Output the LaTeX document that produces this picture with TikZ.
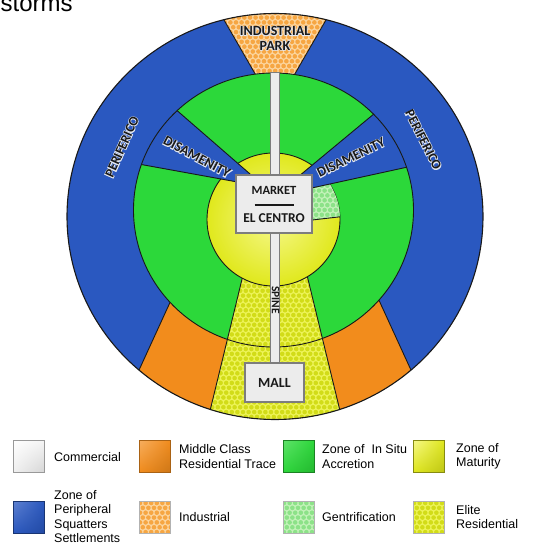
\documentclass[tikz,border=0pt]{standalone}
\usepackage{fontspec}
\setmainfont{Liberation Sans}
\newfontfamily\lblfont{Carlito}
\newfontfamily\halofont{Carlito}[UprightFeatures={FakeBold=10}, BoldFeatures={FakeBold=10}]
\usetikzlibrary{calc,shadings}

\definecolor{pblue}{RGB}{42,88,192}
\definecolor{pgreen}{RGB}{44,216,58}
\definecolor{pyellow}{RGB}{224,232,28}
\definecolor{pyellowlt}{RGB}{246,248,140}
\definecolor{porange}{RGB}{242,140,28}
\definecolor{indbase}{RGB}{252,214,160}
\definecolor{inddot}{RGB}{246,166,66}
\definecolor{elbase}{RGB}{238,244,90}
\definecolor{eldot}{RGB}{210,220,24}
\definecolor{genbase}{RGB}{196,242,186}
\definecolor{gendot}{RGB}{140,226,136}
\definecolor{boxfill}{RGB}{236,236,236}
\definecolor{boxedge}{RGB}{125,125,125}
\definecolor{ink}{RGB}{25,25,25}
\definecolor{halocol}{RGB}{225,230,240}

% honeycomb of dots: colour, x0, y0, x1, y1, radius
\newcommand\dotfield[6]{%
  \pgfmathtruncatemacro\dfrows{(#5-#3)/4.85}%
  \pgfmathtruncatemacro\dfcols{(#4-#2)/5.6}%
  \foreach \k in {0,...,\dfrows}{%
    \foreach \m in {0,...,\dfcols}{%
      \fill[#1] ({#2+\m*5.6+mod(\k,2)*2.8},{#3+\k*4.85}) circle[radius=#6pt];
    }}}

% bold label with a pale halo: name, position, angle, size, text
\newcommand\halo[5]{%
  \node[lbl, text=halocol, rotate=#3, font=\halofont\bfseries\fontsize{#4}{#4}\selectfont]
    (#1h) at (#2) {#5};%
  \node[lbl, rotate=#3, font=\lblfont\bfseries\fontsize{#4}{#4}\selectfont] (#1) at (#2) {#5};}

\def\outerE{(275,216.5) ellipse [x radius=208pt, y radius=203pt]}
\def\midE{(273.5,210) ellipse [x radius=140pt, y radius=137pt]}
\def\innerC{(273.5,219.5) circle [radius=66.5pt]}

\begin{document}
\begin{tikzpicture}[x=1pt,y=-1pt,
  edge/.style={draw=ink, line width=0.9pt},
  lbl/.style={inner sep=0pt, text=ink},
  legtext/.style={anchor=west, align=left, inner sep=0pt,
    font=\fontsize{12.5}{14.3}\selectfont, text=black},
  boxnode/.style={draw=boxedge, line width=1.3pt, fill=boxfill, inner sep=0pt}]
\useasboundingbox (0,0) rectangle (555,543);
\clip (0,0) rectangle (555,543);
\fill[white] (0,0) rectangle (555,543);

% heading line cut by the top edge
\node[anchor=base west, inner sep=0pt, font=\fontsize{24}{24}\selectfont] (head) at (0.5,11.5) {storms};

% outer ring: peripheral squatter settlements
\fill[pblue] \outerE;
\begin{scope}
  \clip \outerE;
  % industrial park
  \begin{scope}
    \clip (212.5,0)--(337.5,0)--(285.6,90)--(264.4,90)--cycle;
    \fill[indbase] (200,0) rectangle (350,95);
    \dotfield{inddot}{208}{3}{350}{95}{2.3}
  \end{scope}
  \draw[edge] (212.5,0)--(264.4,90) (337.5,0)--(285.6,90);
  % middle class residential trace
  \fill[porange] (175.7,290)--(107,440)--(202.9,440)--(239.4,290)--cycle;
  \fill[porange] (374.3,290)--(443,440)--(347.1,440)--(310.6,290)--cycle;
  \draw[edge] (175.7,290)--(107,440) (374.3,290)--(443,440);
\end{scope}

% zone of in situ accretion
\fill[pgreen] \midE;

% elite residential sector
\begin{scope}
  \clip \outerE;
  \begin{scope}
    \clip (249.1,250)--(300.9,250)--(347.1,440)--(202.9,440)--cycle;
    \fill[elbase] (200,250) rectangle (350,440);
    \dotfield{eldot}{201}{252}{350}{440}{2.3}
  \end{scope}
  \draw[edge] (249.1,250)--(202.9,440) (300.9,250)--(347.1,440);
\end{scope}

% zone of maturity
\shade[inner color=pyellowlt, outer color=pyellow] \innerC;
\draw[edge] \innerC;

% gentrification
\begin{scope}
  \clip \innerC;
  \fill[genbase] (300,190.3)--(360,177.2)--(360,214.5)--(300,221.4)--cycle;
  \begin{scope}
    \clip (300,190.3)--(360,177.2)--(360,214.5)--(300,221.4)--cycle;
    \dotfield{gendot}{305}{176}{345}{225}{2.3}
  \end{scope}
  \draw[edge] (300,221.4)--(360,214.5);
\end{scope}

% disamenity sectors
\begin{scope}
  \clip \midE;
  \filldraw[fill=pblue, edge] (120,61)--(265,187)--(100,157)--cycle;
  \filldraw[fill=pblue, edge] (457,45)--(275,196)--(481,151)--cycle;
\end{scope}
\draw[edge] \midE;
\draw[draw=ink, line width=1.1pt] \outerE;

% spine
\filldraw[fill=boxfill, draw=boxedge, line width=0.8pt] (270.5,72) rectangle (279.5,364);

% market and mall
\node[boxnode, minimum width=76pt, minimum height=58pt] (market) at (274,204) {};
\node[lbl, font=\lblfont\bfseries\fontsize{12.5}{12.5}\selectfont] (mkt) at (274,190.5) {MARKET};
\draw[ink, line width=1.2pt] (254.5,205) -- (293.5,205);
\node[lbl, font=\lblfont\bfseries\fontsize{13.5}{13.5}\selectfont] (centro) at (274,218.5) {EL CENTRO};
\node[boxnode, minimum width=59pt, minimum height=39pt] (mall) at (274.5,382.5) {};
\node[lbl, font=\lblfont\bfseries\fontsize{14}{14}\selectfont] (malltxt) at (274.5,383) {MALL};
\node[lbl, rotate=-90, font=\lblfont\bfseries\fontsize{11.5}{11.5}\selectfont] (spine) at (275.5,300) {SPINE};

% zone names
\halo{indA}{275,31}{0}{14}{INDUSTRIAL}
\halo{indB}{275,45.5}{0}{14}{PARK}
\halo{perL}{122,147}{66}{13.5}{PERIFERICO}
\halo{perR}{423.5,140}{-63}{13.5}{PERIFERICO}
\halo{disL}{197,157}{-28}{14}{DISAMENITY}
\halo{disR}{351,157.5}{26}{14}{DISAMENITY}

% key, first row
\shade[upper left=white, upper right=black!4, lower left=black!6, lower right=black!16]
  (13,440) rectangle (44,472);
\draw[black!40, line width=0.6pt] (13,440) rectangle (44,472);
\node[legtext] (kcom) at (54,457) {Commercial};
\shade[upper left=porange!70!white, upper right=porange, lower left=porange, lower right=porange!85!black]
  (139,440) rectangle (170,472);
\draw[porange!70!black, line width=0.6pt] (139,440) rectangle (170,472);
\node[legtext] (kmid) at (179,456.5) {Middle Class\\Residential Trace};
\shade[upper left=pgreen!75!white, upper right=pgreen, lower left=pgreen, lower right=pgreen!85!black]
  (283,440) rectangle (314,472);
\draw[pgreen!60!black, line width=0.6pt] (283,440) rectangle (314,472);
\node[legtext] (ksitu) at (322,456.5) {Zone of \ In Situ\\Accretion};
\shade[upper left=pyellowlt, upper right=pyellow, lower left=pyellow, lower right=pyellow!85!black]
  (413,440) rectangle (444,472);
\draw[pyellow!60!black, line width=0.6pt] (413,440) rectangle (444,472);
\node[legtext] (kmat) at (456,456.5) {Zone of\\Maturity};

% key, second row
\shade[upper left=pblue!75!white, upper right=pblue, lower left=pblue, lower right=pblue!85!black]
  (13,501) rectangle (44,533);
\draw[pblue!60!black, line width=0.6pt] (13,501) rectangle (44,533);
\node[legtext] (kper) at (54,516.5) {Zone of\\Peripheral\\Squatters\\Settlements};
\fill[indbase] (139,501) rectangle (170,533);
\begin{scope}
  \clip (139,501) rectangle (170,533);
  \dotfield{inddot}{140}{503}{172}{535}{2.3}
\end{scope}
\draw[black!30, line width=0.6pt] (139,501) rectangle (170,533);
\node[legtext] (kind) at (179,517) {Industrial};
\fill[genbase] (283,501) rectangle (314,533);
\begin{scope}
  \clip (283,501) rectangle (314,533);
  \dotfield{gendot}{284}{503}{316}{535}{2.3}
\end{scope}
\draw[black!30, line width=0.6pt] (283,501) rectangle (314,533);
\node[legtext] (kgen) at (322,517) {Gentrification};
\fill[elbase] (413,501) rectangle (444,533);
\begin{scope}
  \clip (413,501) rectangle (444,533);
  \dotfield{eldot}{414}{503}{446}{535}{2.3}
\end{scope}
\draw[black!30, line width=0.6pt] (413,501) rectangle (444,533);
\node[legtext] (kel) at (456,517) {Elite\\Residential};
\end{tikzpicture}
\end{document}
